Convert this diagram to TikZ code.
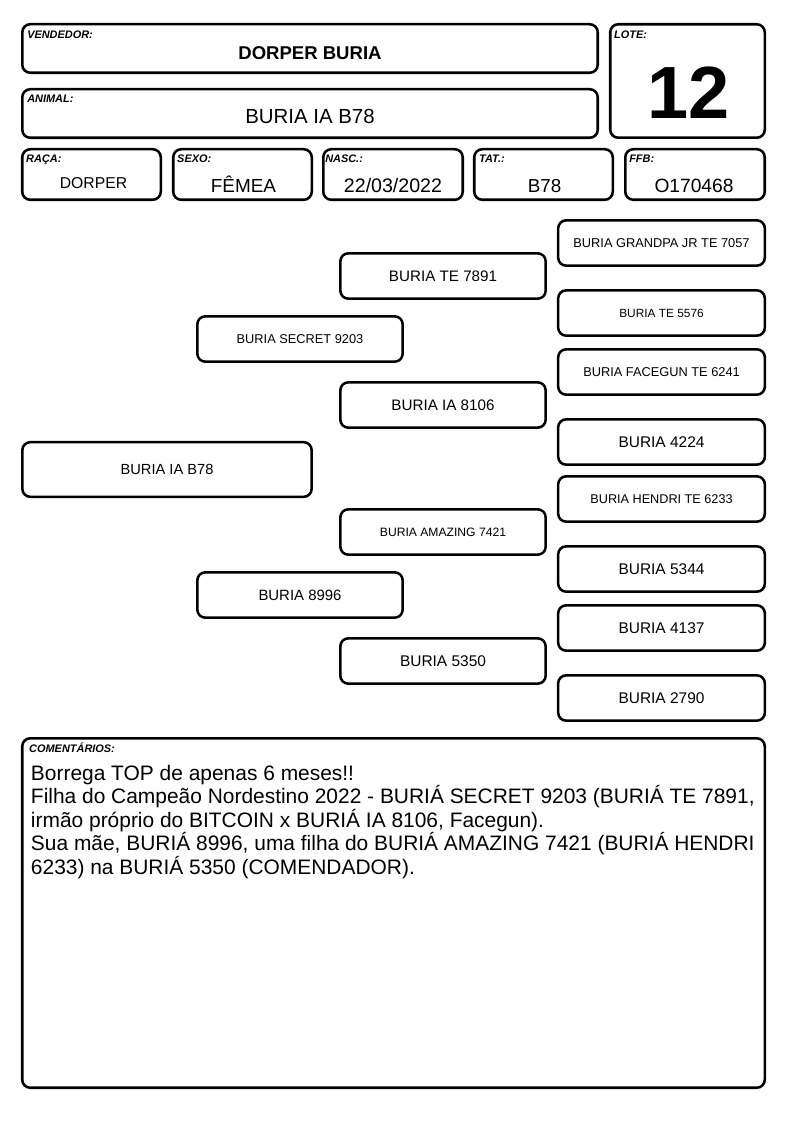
\documentclass[tikz,border=0pt]{standalone}
\usepackage{fontspec}
\setmainfont{Liberation Sans}
\usetikzlibrary{positioning}
\newcommand{\sz}[1]{\fontsize{#1}{#1}\selectfont}
\tikzset{
  bx/.style  ={draw, line width=1.9pt, rounded corners=6pt, inner sep=0pt},
  hd/.style  ={bx, minimum width=431.6pt, minimum height=36.4pt},
  sm/.style  ={bx, minimum width=103.9pt, minimum height=37.9pt},
  ped/.style ={bx, minimum width=154pt, minimum height=34pt},
  anc/.style ={bx, minimum width=155pt, minimum height=34pt},
  lbl/.style ={anchor=base west, inner sep=0pt, font=\sz{8.2}\bfseries\itshape},
  val/.style ={anchor=base, inner sep=0pt}
}
\begin{document}
\begin{tikzpicture}[x=0.75pt, y=-0.75pt]
\useasboundingbox (0,0) rectangle (794,1123);
% header
\node[hd] (vend) at (310,48.5) {};
\node[hd] (anim) at (310,113.5) {};
\node[bx, minimum width=115.9pt, minimum height=85.1pt] (lote) at (687.5,81) {};
\node[sm] (raca) at (91.5,174.5) {};
\node[sm] (sexo) at (242.5,174.5) {};
\node[sm, minimum width=104.6pt] (nasc) at (393,174.5) {};
\node[sm] (tat)  at (543.5,174.5) {};
\node[sm, minimum width=104.6pt] (ffb)  at (695,174.5) {};

\node[lbl] (vendl) at ([shift={(6,15.5)}]vend.north west) {VENDEDOR:};
\node[lbl] (animl) at ([shift={(6,14.5)}]anim.north west) {ANIMAL:};
\node[lbl] (lotel) at ([shift={(5,15.5)}]lote.north west) {LOTE:};
\node[lbl] (racal) at ([shift={(5,15)}]raca.north west) {RAÇA:};
\node[lbl] (sexol) at ([shift={(5,15)}]sexo.north west) {SEXO:};
\node[lbl] (nascl) at ([shift={(3,15)}]nasc.north west) {NASC.:};
\node[lbl] (tatl)  at ([shift={(6,15)}]tat.north west) {TAT.:};
\node[lbl] (ffbl)  at ([shift={(5,15)}]ffb.north west) {FFB:};

\node[val, font=\sz{13.9}\bfseries] (vendv) at ([shift={(0,11.5)}]vend.center) {DORPER BURIA};
\node[val, font=\sz{15.3}] (animv) at ([shift={(0,9.8)}]anim.center) {BURIA IA B78};
\node[val, font=\sz{55.5}\bfseries] (lotev) at ([shift={(1,38)}]lote.center) {12};
\node[val, font=\sz{11.8}] (racav) at ([shift={(2,13.8)}]raca.center) {DORPER};
\node[val, font=\sz{14.2}] (sexov) at ([shift={(1,18)}]sexo.center) {FÊMEA};
\node[val, font=\sz{14.7}] (nascv) at ([shift={(0,18.5)}]nasc.center) {22/03/2022};
\node[val, font=\sz{14.1}] (tatv)  at ([shift={(1,18)}]tat.center) {B78};
\node[val, font=\sz{14.4}] (ffbv)  at ([shift={(-1,18)}]ffb.center) {O170468};

% pedigree
\node[bx, minimum width=217pt, minimum height=41pt, font=\sz{11}] (an) at (167,469.5) {BURIA IA B78};
\node[ped, font=\sz{9.6}]  (s)  at (300,339) {BURIA SECRET 9203};
\node[ped, font=\sz{11.2}] (d)  at (300,595) {BURIA 8996};
\node[ped, font=\sz{11.4}] (ss) at (443,276) {BURIA TE 7891};
\node[ped, font=\sz{11.4}] (sd) at (443,405) {BURIA IA 8106};
\node[ped, font=\sz{9.1}]  (ds) at (443,532) {BURIA AMAZING 7421};
\node[ped, font=\sz{11.6}] (dd) at (443,661) {BURIA 5350};
\node[anc, font=\sz{9.6}]  (sss) at (661.5,243) {BURIA GRANDPA JR TE 7057};
\node[anc, font=\sz{8.9}]  (ssd) at (661.5,313) {BURIA TE 5576};
\node[anc, font=\sz{9.6}]  (sds) at (661.5,372) {BURIA FACEGUN TE 6241};
\node[anc, font=\sz{11.6}] (sdd) at (661.5,442) {BURIA 4224};
\node[anc, font=\sz{9.5}]  (dss) at (661.5,499) {BURIA HENDRI TE 6233};
\node[anc, font=\sz{11.6}] (dsd) at (661.5,569) {BURIA 5344};
\node[anc, font=\sz{11.6}] (dds) at (661.5,628) {BURIA 4137};
\node[anc, font=\sz{11.6}] (ddd) at (661.5,698) {BURIA 2790};

% comments
\node[bx, minimum width=556.9pt, minimum height=262.1pt] (com) at (393.5,913) {};
\node[lbl] (coml) at ([shift={(8,15.5)}]com.north west) {COMENTÁRIOS:};
\node[anchor=base west, inner sep=0pt, align=left, font=\fontsize{15.7}{17.7}\selectfont]
  (comv) at ([shift={(9.75,137.5)}]com.north west)
  {Borrega TOP de apenas 6 meses!!\\
   Filha do Campeão Nordestino 2022 - BURIÁ SECRET 9203 (BURIÁ TE 7891,\\
   irmão próprio do BITCOIN x BURIÁ IA 8106, Facegun).\\
   Sua mãe, BURIÁ 8996, uma filha do BURIÁ AMAZING 7421 (BURIÁ HENDRI\\
   6233) na BURIÁ 5350 (COMENDADOR).};
\end{tikzpicture}
\end{document}
